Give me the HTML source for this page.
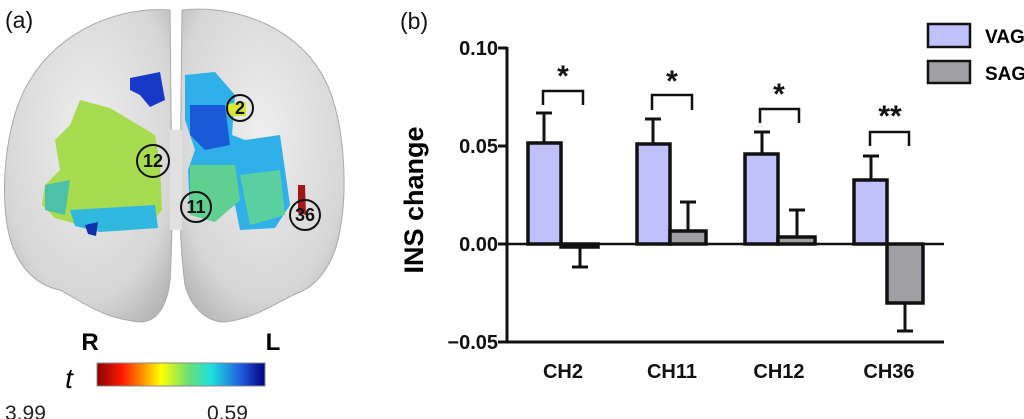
<!DOCTYPE html>
<html><head><meta charset="utf-8"><style>
html,body{margin:0;padding:0;background:#fff;}
svg{display:block;font-family:"Liberation Sans",Arial,sans-serif;}
</style></head><body>
<svg width="1024" height="419" viewBox="0 0 1024 419" xmlns="http://www.w3.org/2000/svg">
<defs>
<linearGradient id="cb" x1="0" x2="1" y1="0" y2="0">
<stop offset="0" stop-color="#8b0000"/><stop offset="0.15" stop-color="#ff1a00"/>
<stop offset="0.38" stop-color="#ffff00"/><stop offset="0.55" stop-color="#66e07a"/>
<stop offset="0.68" stop-color="#1ee0e0"/><stop offset="0.85" stop-color="#2060e0"/>
<stop offset="1" stop-color="#000080"/></linearGradient>
<radialGradient id="br" cx="0.5" cy="0.4" r="0.7"><stop offset="0" stop-color="#eeeeee"/><stop offset="0.75" stop-color="#d6d6d6"/><stop offset="1" stop-color="#b5b5b5"/></radialGradient>
</defs>
<!-- Panel a -->
<text x="5" y="28" font-size="23" fill="#111">(a)</text>
<path d="M170,10 C120,6 60,30 30,80 C5,120 0,190 8,230 C15,265 35,285 60,290 C80,300 100,318 140,322 C160,322 168,300 170,280 C172,250 172,220 172,200 Z" fill="url(#br)" stroke="#aaa"/>
<path d="M182,10 C240,4 300,30 325,80 C345,120 348,190 340,230 C335,262 318,285 300,292 C280,300 258,318 225,322 C205,322 190,305 185,285 C181,255 180,225 180,200 Z" fill="url(#br)" stroke="#aaa"/>
<rect x="170" y="130" width="12" height="100" fill="#e0e0e0"/>
<!-- blobs -->
<path d="M130,78 L160,72 L165,100 L150,107 L140,95 L130,90Z" fill="#1838c8"/>
<path d="M80,100 L110,108 L130,120 L155,135 L160,165 L162,210 L150,225 L110,228 L80,225 L55,218 L42,205 L45,185 L60,170 L55,140 L70,125Z" fill="#a8dc50"/>
<path d="M45,185 L70,180 L65,215 L45,210Z" fill="#4cc0a8"/>
<path d="M70,210 L155,205 L158,228 L100,232 L75,226Z" fill="#30b8e0"/>
<path d="M85,225 L98,222 L96,236 L88,234Z" fill="#1030b0"/>
<path d="M185,75 L215,72 L235,95 L232,135 L245,140 L280,135 L290,205 L275,228 L240,230 L235,205 L215,220 L190,215 L188,170 L195,150 L185,120Z" fill="#30b0e8"/>
<path d="M190,105 L225,105 L230,145 L205,150 L190,135Z" fill="#1a5ad8"/>
<path d="M190,165 L235,165 L240,200 L215,222 L190,215Z" fill="#60d090"/>
<path d="M240,175 L280,170 L285,215 L250,225Z" fill="#5ad0a0"/>
<path d="M226,104 L246,102 L246,116 L228,116Z" fill="#d8e830"/>
<path d="M298,185 L305,185 L306,215 L298,213Z" fill="#a01818"/>
<g fill="none" stroke="#111" stroke-width="2"><circle cx="240" cy="108" r="13"/><circle cx="153" cy="161" r="16"/><circle cx="196" cy="207" r="15"/><circle cx="305" cy="215" r="15"/></g>
<g font-size="18" font-weight="bold" text-anchor="middle" fill="#111"><text x="240" y="114">2</text><text x="153" y="167">12</text><text x="196" y="213">11</text><text x="305" y="221">36</text></g>
<text x="90" y="350" font-size="24" font-weight="bold" text-anchor="middle">R</text>
<text x="273" y="350" font-size="24" font-weight="bold" text-anchor="middle">L</text>
<text x="69" y="388" font-size="28" font-style="italic" text-anchor="middle">t</text>
<rect x="97" y="363" width="168" height="23" fill="url(#cb)" stroke="#888"/>
<text x="5" y="420" font-size="21" fill="#222">3.99</text>
<text x="207" y="420" font-size="21" fill="#222">0.59</text>
<!-- Panel b -->
<text x="400" y="29" font-size="23" fill="#111">(b)</text>
<text transform="translate(423,200) rotate(-90)" font-size="27" font-weight="bold" text-anchor="middle">INS change</text>
<g font-size="20" font-weight="bold" text-anchor="end" fill="#111">
<text x="498" y="55">0.10</text><text x="498" y="153">0.05</text><text x="498" y="251">0.00</text><text x="498" y="349">−0.05</text></g>
<g stroke="#111" stroke-width="3" fill="none">
<line x1="507" y1="47" x2="507" y2="343"/><line x1="498" y1="48" x2="507" y2="48"/><line x1="498" y1="146" x2="507" y2="146"/><line x1="498" y1="244" x2="507" y2="244"/><line x1="498" y1="342" x2="507" y2="342"/>
<line x1="506" y1="342" x2="944" y2="342"/>
<line x1="544" y1="143" x2="544" y2="113"/><line x1="536" y1="113" x2="552" y2="113"/>
<line x1="580" y1="247" x2="580" y2="267"/><line x1="572" y1="267" x2="588" y2="267"/>
<line x1="653" y1="144" x2="653" y2="119"/><line x1="645" y1="119" x2="661" y2="119"/>
<line x1="688" y1="231" x2="688" y2="202"/><line x1="680" y1="202" x2="696" y2="202"/>
<line x1="762" y1="154" x2="762" y2="132"/><line x1="754" y1="132" x2="770" y2="132"/>
<line x1="797" y1="237" x2="797" y2="210"/><line x1="789" y1="210" x2="805" y2="210"/>
<line x1="871" y1="180" x2="871" y2="156"/><line x1="863" y1="156" x2="879" y2="156"/>
<line x1="905" y1="303" x2="905" y2="331"/><line x1="897" y1="331" x2="913" y2="331"/>
</g>
<g stroke="#111" stroke-width="3.5">
<rect x="528" y="143" width="33" height="101" fill="#c0c0fa"/>
<rect x="561" y="244" width="37" height="3" fill="#a0a0a4"/>
<rect x="637" y="144" width="33" height="100" fill="#c0c0fa"/>
<rect x="670" y="231" width="36" height="13" fill="#a0a0a4"/>
<rect x="745" y="154" width="33" height="90" fill="#c0c0fa"/>
<rect x="778" y="237" width="37" height="7" fill="#a0a0a4"/>
<rect x="854" y="180" width="33" height="64" fill="#c0c0fa"/>
<rect x="887" y="244" width="36" height="59" fill="#a0a0a4"/>
</g>
<line x1="506" y1="244" x2="944" y2="244" stroke="#111" stroke-width="2.5"/>
<g stroke="#111" stroke-width="2.5" fill="none">
<polyline points="543,105 543,91 583,91 583,105"/>
<polyline points="652,110 652,95 692,95 692,110"/>
<polyline points="760,123 760,109 799,109 799,123"/>
<polyline points="870,146 870,132 909,132 909,146"/>
</g>
<g font-size="30" font-weight="bold" text-anchor="middle" fill="#111">
<text x="563" y="86">*</text><text x="672" y="91">*</text><text x="779" y="104">*</text><text x="890" y="126">**</text></g>
<g font-size="20" font-weight="bold" text-anchor="middle" fill="#111">
<text x="563" y="378">CH2</text><text x="672" y="378">CH11</text><text x="779" y="378">CH12</text><text x="889" y="378">CH36</text></g>
<rect x="928" y="24" width="42" height="23" fill="#c0c0fa" stroke="#111" stroke-width="2.5"/>
<rect x="928" y="61" width="42" height="22" fill="#a0a0a4" stroke="#111" stroke-width="2.5"/>
<text x="985" y="43" font-size="19" font-weight="bold">VAG</text>
<text x="985" y="80" font-size="19" font-weight="bold">SAG</text>
</svg>
</body></html>
